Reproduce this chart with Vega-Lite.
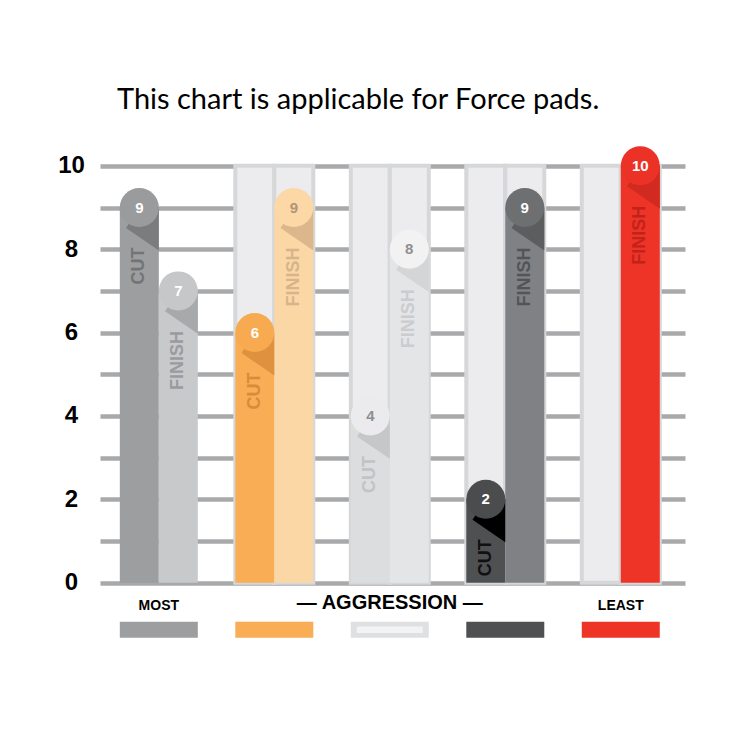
{
  "$schema": "https://vega.github.io/schema/vega-lite/v6.json",
  "width": 585,
  "height": 496,
  "autosize": {"type": "none"},
  "padding": {"left": 100, "top": 145, "right": 65, "bottom": 109},
  "background": "#ffffff",
  "config": {"view": {"stroke": null}},
  "title": {
    "text": "This chart is applicable for Force pads.",
    "anchor": "start",
    "frame": "group",
    "dx": 17,
    "offset": 30,
    "font": "Lato",
    "fontSize": 29,
    "fontWeight": "normal",
    "color": "#000000"
  },
  "datasets": {
    "bars": [
      {"group": "1", "kind": "CUT", "series": "G1 CUT", "value": 9},
      {"group": "1", "kind": "FINISH", "series": "G1 FINISH", "value": 7},
      {"group": "2", "kind": "CUT", "series": "G2 CUT", "value": 6},
      {"group": "2", "kind": "FINISH", "series": "G2 FINISH", "value": 9},
      {"group": "3", "kind": "CUT", "series": "G3 CUT", "value": 4},
      {"group": "3", "kind": "FINISH", "series": "G3 FINISH", "value": 8},
      {"group": "4", "kind": "CUT", "series": "G4 CUT", "value": 2},
      {"group": "4", "kind": "FINISH", "series": "G4 FINISH", "value": 9},
      {"group": "5", "kind": "FINISH", "series": "G5 FINISH", "value": 10}
    ],
    "columns": [
      {"group": "2", "kind": "CUT", "top": 10},
      {"group": "2", "kind": "FINISH", "top": 10},
      {"group": "3", "kind": "CUT", "top": 10},
      {"group": "3", "kind": "FINISH", "top": 10},
      {"group": "4", "kind": "CUT", "top": 10},
      {"group": "4", "kind": "FINISH", "top": 10},
      {"group": "5", "kind": "CUT", "top": 10},
      {"group": "5", "kind": "FINISH", "top": 10}
    ],
    "captions": [
      {"group": "1", "caption": "MOST"},
      {"group": "5", "caption": "LEAST"}
    ],
    "bigcaption": [
      {"group": "3", "caption": "— AGGRESSION —"}
    ],
    "swatches": [
      {"group": "1"},
      {"group": "2"},
      {"group": "3"},
      {"group": "4"},
      {"group": "5"}
    ]
  },
  "resolve": {"scale": {"color": "independent"}},
  "layer": [
    {
      "data": {"name": "columns"},
      "mark": {"type": "bar", "fill": "#ececee", "stroke": "#d6d7d9", "strokeWidth": 4},
      "encoding": {
        "x": {"field": "group", "type": "nominal", "axis": null,
              "scale": {"domain": ["1", "2", "3", "4", "5"], "paddingInner": 0.3247, "paddingOuter": 0.195, "align": 0.44}},
        "xOffset": {"field": "kind", "type": "nominal", "scale": {"domain": ["CUT", "FINISH"], "paddingInner": 0, "paddingOuter": 0}},
        "y": {"field": "top", "type": "quantitative",
              "scale": {"domain": [-1.4, 10.5], "nice": false, "zero": false},
              "axis": {"values": [0, 1, 2, 3, 4, 5, 6, 7, 8, 9, 10], "title": null, "domain": false, "ticks": false, "tickSize": 0,
                       "grid": true, "gridColor": "#a8a9ab", "gridWidth": 4.5, "gridOpacity": 1,
                       "labelExpr": "datum.value % 2 == 0 ? datum.label : ''",
                       "labelFont": "Liberation Sans", "labelFontSize": 24, "labelFontWeight": "bold", "labelColor": "#000000",
                       "labelAlign": "center", "labelPadding": 29}},
        "y2": {"datum": 0}
      }
    },
    {
      "data": {"name": "bars"},
      "mark": {"type": "bar"},
      "encoding": {
        "x": {"field": "group", "type": "nominal"},
        "xOffset": {"field": "kind", "type": "nominal"},
        "y": {"field": "value", "type": "quantitative"},
        "y2": {"datum": 0},
        "color": {"field": "series", "type": "nominal", "legend": null,
                  "scale": {"domain": ["G1 CUT", "G1 FINISH", "G2 CUT", "G2 FINISH", "G3 CUT", "G3 FINISH", "G4 CUT", "G4 FINISH", "G5 FINISH"],
                            "range": ["#9d9ea0", "#c8c9cb", "#f9ad55", "#fbd7a5", "#dcdddf", "#e4e5e7", "#4f5052", "#808184", "#ee3427"]}}
      }
    },
    {
      "data": {"name": "bars"},
      "mark": {"type": "point", "filled": true, "opacity": 1, "size": 1521, "shape": "M 0 0 L 1 0 L 1 2.2 L -0.68 1.05 Z", "strokeWidth": 0},
      "encoding": {
        "x": {"field": "group", "type": "nominal"},
        "xOffset": {"field": "kind", "type": "nominal"},
        "y": {"field": "value", "type": "quantitative"},
        "color": {"field": "series", "type": "nominal", "legend": null,
                  "scale": {"domain": ["G1 CUT", "G1 FINISH", "G2 CUT", "G2 FINISH", "G3 CUT", "G3 FINISH", "G4 CUT", "G4 FINISH", "G5 FINISH"],
                            "range": ["#7b7c7e", "#a8a9ab", "#e0913f", "#dcb78c", "#c6c7c9", "#d4d5d7", "#000000", "#5c5d5f", "#d12a20"]}}
      }
    },
    {
      "data": {"name": "bars"},
      "mark": {"type": "point", "filled": true, "opacity": 1, "size": 1521, "shape": "circle", "strokeWidth": 0},
      "encoding": {
        "x": {"field": "group", "type": "nominal"},
        "xOffset": {"field": "kind", "type": "nominal"},
        "y": {"field": "value", "type": "quantitative"},
        "color": {"field": "series", "type": "nominal", "legend": null,
                  "scale": {"domain": ["G1 CUT", "G1 FINISH", "G2 CUT", "G2 FINISH", "G3 CUT", "G3 FINISH", "G4 CUT", "G4 FINISH", "G5 FINISH"],
                            "range": ["#9a9b9d", "#c6c7c9", "#f8aa50", "#fbd8a6", "#ebebed", "#f2f2f3", "#4b4c4e", "#6e6f71", "#ec3226"]}}
      }
    },
    {
      "data": {"name": "bars"},
      "mark": {"type": "text", "font": "Liberation Sans", "fontSize": 15, "fontWeight": "bold", "align": "center", "baseline": "middle"},
      "encoding": {
        "x": {"field": "group", "type": "nominal"},
        "xOffset": {"field": "kind", "type": "nominal"},
        "y": {"field": "value", "type": "quantitative"},
        "text": {"field": "value", "type": "quantitative"},
        "color": {"field": "series", "type": "nominal", "legend": null,
                  "scale": {"domain": ["G1 CUT", "G1 FINISH", "G2 CUT", "G2 FINISH", "G3 CUT", "G3 FINISH", "G4 CUT", "G4 FINISH", "G5 FINISH"],
                            "range": ["#ffffff", "#ffffff", "#ffffff", "#b09577", "#8e8f91", "#8e8f91", "#ffffff", "#ffffff", "#ffffff"]}}
      }
    },
    {
      "data": {"name": "bars"},
      "mark": {"type": "text", "font": "Liberation Sans", "fontSize": 18, "fontWeight": "bold", "angle": 270, "align": "right", "baseline": "middle", "dx": -40},
      "encoding": {
        "x": {"field": "group", "type": "nominal"},
        "xOffset": {"field": "kind", "type": "nominal"},
        "y": {"field": "value", "type": "quantitative"},
        "text": {"field": "kind", "type": "nominal"},
        "color": {"field": "series", "type": "nominal", "legend": null,
                  "scale": {"domain": ["G1 CUT", "G1 FINISH", "G2 CUT", "G2 FINISH", "G3 CUT", "G3 FINISH", "G4 CUT", "G4 FINISH", "G5 FINISH"],
                            "range": ["#737476", "#9a9b9e", "#d98b3a", "#d7b48b", "#c2c3c5", "#cbcccf", "#111111", "#535456", "#c1231b"]}}
      }
    },
    {
      "data": {"name": "captions"},
      "mark": {"type": "text", "font": "Liberation Sans", "fontSize": 14, "fontWeight": "bold", "align": "center", "baseline": "middle", "color": "#000000"},
      "encoding": {
        "x": {"field": "group", "type": "nominal"},
        "y": {"datum": -0.55, "type": "quantitative"},
        "text": {"field": "caption", "type": "nominal"}
      }
    },
    {
      "data": {"name": "bigcaption"},
      "mark": {"type": "text", "font": "Liberation Sans", "fontSize": 20, "fontWeight": "bold", "align": "center", "baseline": "middle", "color": "#000000"},
      "encoding": {
        "x": {"field": "group", "type": "nominal"},
        "y": {"datum": -0.5, "type": "quantitative"},
        "text": {"field": "caption", "type": "nominal"}
      }
    },
    {
      "data": {"name": "swatches"},
      "mark": {"type": "bar", "strokeWidth": 0},
      "encoding": {
        "x": {"field": "group", "type": "nominal"},
        "y": {"datum": -0.94, "type": "quantitative"},
        "y2": {"datum": -1.32},
        "color": {"field": "group", "type": "nominal", "legend": null,
                  "scale": {"domain": ["1", "2", "3", "4", "5"], "range": ["#9d9ea0", "#f9ad55", "#dfe0e2", "#4f5052", "#ee3427"]}}
      }
    },
    {
      "data": {"name": "swatches"},
      "transform": [{"filter": "datum.group == '3'"}],
      "mark": {"type": "bar", "fill": "#f3f3f4", "strokeWidth": 0, "width": 66},
      "encoding": {
        "x": {"field": "group", "type": "nominal"},
        "y": {"datum": -1.05, "type": "quantitative"},
        "y2": {"datum": -1.21}
      }
    }
  ]
}
